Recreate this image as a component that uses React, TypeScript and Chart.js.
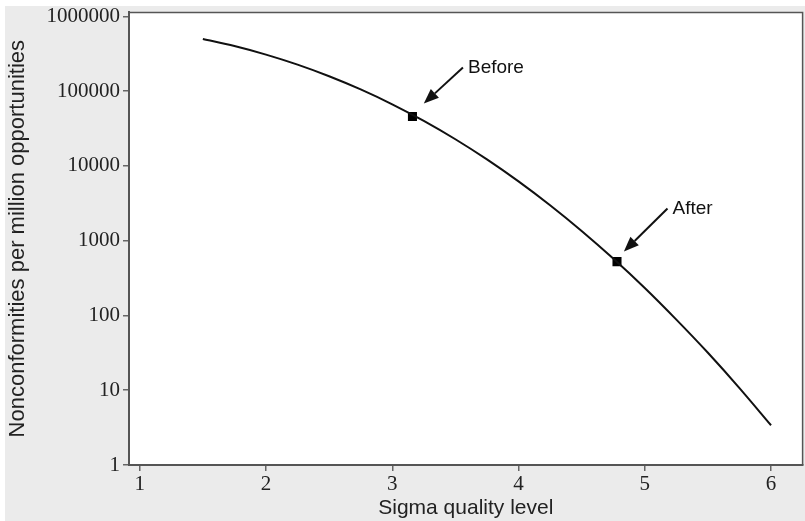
import React, { useEffect, useRef } from "react";
import { Chart, registerables } from "chart.js";

Chart.register(...registerables);

// Sigma quality level vs nonconformities per million opportunities
const sigmaLevels = [1.5, 1.75, 2.0, 2.25, 2.5, 2.75, 3.0, 3.25, 3.5, 3.75, 4.0, 4.25, 4.5, 4.75, 5.0, 5.25, 5.5, 5.75, 6.0];
const ppmValues = [500000, 401294, 308538, 226627, 158655, 105650, 66807, 40059, 22750, 12224, 6210, 2980, 1350, 577, 233, 88, 31.7, 10.7, 3.4];

const markerLabels = ["Before", "After"];
const markerSigma = [3.16, 4.78];
const markerPpm = [46000, 525];

// arrow tails (text anchors) and tips in data coordinates
const arrowTailSigma = [3.56, 5.18];
const arrowTailPpm = [207000, 2690];
const arrowTipSigma = [3.25, 4.835];
const arrowTipPpm = [68400, 715];

const xTicks = [1, 2, 3, 4, 5, 6];
const yTicks = [1, 10, 100, 1000, 10000, 100000, 1000000];

const arrowPlugin = {
  id: "arrows",
  afterDatasetsDraw(chart: any) {
    const { ctx, scales } = chart;
    const xs = scales.x;
    const ys = scales.y;
    ctx.save();
    for (let i = 0; i < markerLabels.length; i++) {
      const tx = xs.getPixelForValue(arrowTailSigma[i]);
      const ty = ys.getPixelForValue(arrowTailPpm[i]);
      const hx = xs.getPixelForValue(arrowTipSigma[i]);
      const hy = ys.getPixelForValue(arrowTipPpm[i]);
      const ang = Math.atan2(hy - ty, hx - tx);
      const headLen = 15;
      const headW = 6;
      const bx = hx - headLen * Math.cos(ang);
      const by = hy - headLen * Math.sin(ang);
      ctx.strokeStyle = "#111";
      ctx.fillStyle = "#111";
      ctx.lineWidth = 2;
      ctx.beginPath();
      ctx.moveTo(tx, ty);
      ctx.lineTo(bx, by);
      ctx.stroke();
      ctx.beginPath();
      ctx.moveTo(hx, hy);
      ctx.lineTo(bx + headW * Math.sin(ang), by - headW * Math.cos(ang));
      ctx.lineTo(bx - headW * Math.sin(ang), by + headW * Math.cos(ang));
      ctx.closePath();
      ctx.fill();
      ctx.font = "19px 'Liberation Sans', Arial, sans-serif";
      ctx.textAlign = "left";
      ctx.textBaseline = "middle";
      ctx.fillText(markerLabels[i], tx + 5, ty);
    }
    ctx.restore();
  },
};

const bgPlugin = {
  id: "plotBg",
  beforeDraw(chart: any) {
    const { ctx, chartArea } = chart;
    ctx.save();
    ctx.fillStyle = "#ffffff";
    ctx.fillRect(chartArea.left, chartArea.top, chartArea.right - chartArea.left, chartArea.bottom - chartArea.top);
    ctx.restore();
  },
  afterDraw(chart: any) {
    const { ctx, chartArea } = chart;
    ctx.save();
    ctx.strokeStyle = "#555";
    ctx.lineWidth = 1.5;
    ctx.beginPath();
    ctx.moveTo(chartArea.left, chartArea.top);
    ctx.lineTo(chartArea.right, chartArea.top);
    ctx.lineTo(chartArea.right, chartArea.bottom);
    ctx.stroke();
    ctx.restore();
  },
};

export default function App() {
  const ref = useRef<HTMLCanvasElement | null>(null);

  useEffect(() => {
    document.body.style.margin = "0";
    document.body.style.overflow = "hidden";
    if (!ref.current) return;
    const tickFont = { family: "'Liberation Serif', 'Times New Roman', serif", size: 21 };
    const titleFont = { family: "'Liberation Sans', Arial, sans-serif", size: 21 };
    const yTitleFont = { family: "'Liberation Sans', Arial, sans-serif", size: 22 };
    const chart = new Chart(ref.current, {
      type: "line",
      data: {
        datasets: [
          {
            data: sigmaLevels.map((s, i) => ({ x: s, y: ppmValues[i] })),
            borderColor: "#111",
            borderWidth: 2,
            pointRadius: 0,
            tension: 0.4,
            cubicInterpolationMode: "monotone",
            fill: false,
          },
          {
            data: markerSigma.map((s, i) => ({ x: s, y: markerPpm[i] })),
            showLine: false,
            pointStyle: "rect",
            pointRadius: 6.4,
            pointBackgroundColor: "#000",
            pointBorderColor: "#000",
            pointBorderWidth: 0,
            borderWidth: 0,
          },
        ],
      },
      options: {
        animation: false,
        responsive: false,
        maintainAspectRatio: false,
        layout: { padding: { top: 6, right: 0, left: 0, bottom: 0 } },
        plugins: { legend: { display: false }, tooltip: { enabled: false } },
        scales: {
          x: {
            type: "linear",
            min: 0.915,
            max: 6.25,
            afterBuildTicks: (scale: any) => {
              scale.ticks = xTicks.map((v) => ({ value: v }));
            },
            afterFit: (scale: any) => {
              scale.height = 56;
              scale.paddingLeft = 0;
              scale.paddingRight = 0;
            },
            ticks: {
              font: tickFont,
              color: "#222",
              padding: 1,
              maxRotation: 0,
              autoSkip: false,
              callback: (v: any) => String(v),
            },
            grid: { drawOnChartArea: false, drawTicks: true, tickLength: 6, color: "#666", lineWidth: 1.5 },
            border: { display: true, color: "#555", width: 2 },
            title: { display: true, text: "Sigma quality level", font: titleFont, color: "#222", padding: { top: 0, bottom: 0 } },
          },
          y: {
            type: "logarithmic",
            min: 1,
            max: 1132000,
            afterBuildTicks: (scale: any) => {
              scale.ticks = yTicks.map((v) => ({ value: v }));
            },
            afterFit: (scale: any) => {
              scale.width = 124;
              scale.paddingTop = 0;
              scale.paddingBottom = 0;
            },
            ticks: {
              font: tickFont,
              color: "#222",
              padding: 3,
              autoSkip: false,
              callback: (v: any) => String(v),
            },
            grid: { drawOnChartArea: false, drawTicks: true, tickLength: 6, color: "#666", lineWidth: 1.5 },
            border: { display: true, color: "#555", width: 2 },
            title: {
              display: true,
              text: "Nonconformities per million opportunities",
              font: yTitleFont,
              color: "#222",
              padding: { top: 0, bottom: 0 },
            },
          },
        },
      },
      plugins: [bgPlugin, arrowPlugin],
    } as any);
    return () => chart.destroy();
  }, []);

  return (
    <div style={{ position: "absolute", left: 5, top: 6, width: 804, height: 515, background: "#ebebeb" }}>
      <canvas ref={ref} width={804} height={515} style={{ display: "block" }} />
    </div>
  );
}
